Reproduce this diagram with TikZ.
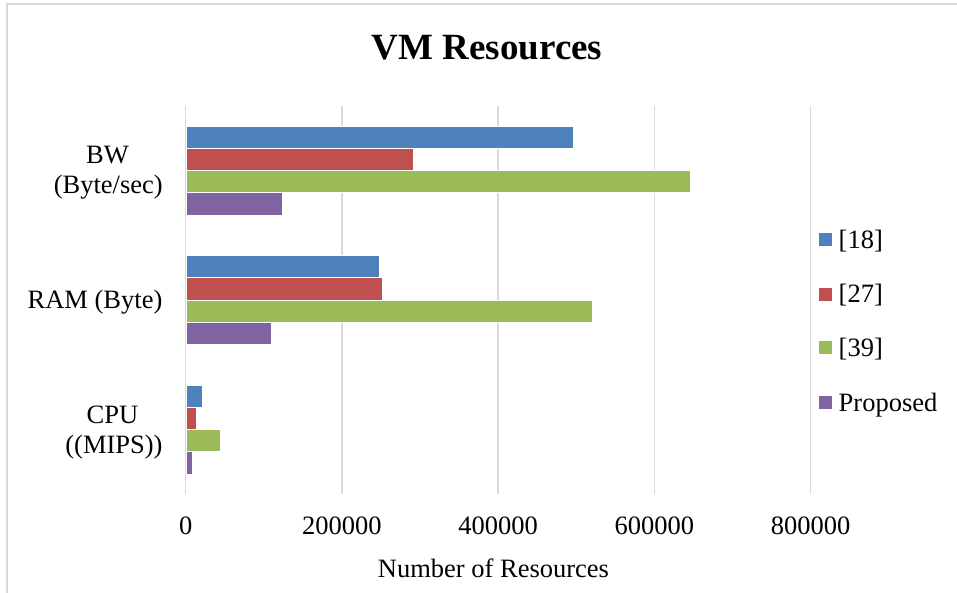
\documentclass[tikz,border=0pt]{standalone}
\usepackage{fontspec}
\setmainfont{Liberation Serif}
\definecolor{cblue}{HTML}{4F81BD}
\definecolor{cred}{HTML}{C0504D}
\definecolor{cgreen}{HTML}{9BBB59}
\definecolor{cpurple}{HTML}{8064A2}
\definecolor{gridc}{HTML}{D9D9D9}
\begin{document}
\begin{tikzpicture}[x=1pt,y=-1pt,
  lbl/.style={font=\fontsize{26.5}{30}\selectfont, inner sep=0pt, anchor=base},
  gridline/.style={draw=gridc, line width=1.5pt},
  barstyle/.style={draw=white, line width=0.4pt},
  keybox/.style={minimum width=13pt, minimum height=13pt, inner sep=0pt}]
\useasboundingbox (0,0) rectangle (957,593);
\fill[white] (0,0) rectangle (957,593);
\draw[gridc, line width=1.5pt] (7,593) -- (7,4) -- (957,4);
% gridlines
\foreach \k in {0,...,4}
  \draw[gridline] ({185.7+156.2*\k},106) -- ({185.7+156.2*\k},494);
% bars
\foreach \g/\i/\e/\c in {0/0/573.5/cblue, 0/1/413/cred, 0/2/690/cgreen, 0/3/282/cpurple,
                         1/0/379/cblue, 1/1/382/cred, 1/2/592/cgreen, 1/3/271/cpurple,
                         2/0/202/cblue, 2/1/196.5/cred, 2/2/220/cgreen, 2/3/192/cpurple}
  \filldraw[barstyle, fill=\c] (186.2,{126+129.5*\g+22.2*\i}) rectangle (\e,{126+129.5*\g+22.2*(\i+1)});
% title
\node[font=\fontsize{37}{40}\selectfont\bfseries, anchor=base, inner sep=0pt] (title) at (487,60) {VM Resources};
% tick labels
\foreach \k/\t in {0/0,1/200000,2/400000,3/600000,4/800000}
  \node[lbl] (tick\k) at ({185.7+156.2*\k},534) {\t};
\node[lbl] (xlab) at (493.5,577) {Number of Resources};
% category labels
\node[lbl] (bwa) at (107.5,164) {BW};
\node[lbl] (bwb) at (108.3,194) {(Byte/sec)};
\node[lbl] (ram) at (95,308) {RAM (Byte)};
\node[lbl] (cpua) at (112.5,423.3) {CPU};
\node[lbl] (cpub) at (114,453) {((MIPS))};
% legend
\foreach \n/\y/\c/\t in {a/240/cblue/{[18]}, b/294/cred/{[27]}, c/347.7/cgreen/{[39]}, d/402.3/cpurple/{Proposed}} {
  \node[keybox, fill=\c] (key\n) at (825,\y) {};
  \node[lbl, anchor=base west] (leg\n) at (838.5,{\y+8.8}) {\t};
}
\end{tikzpicture}
\end{document}
